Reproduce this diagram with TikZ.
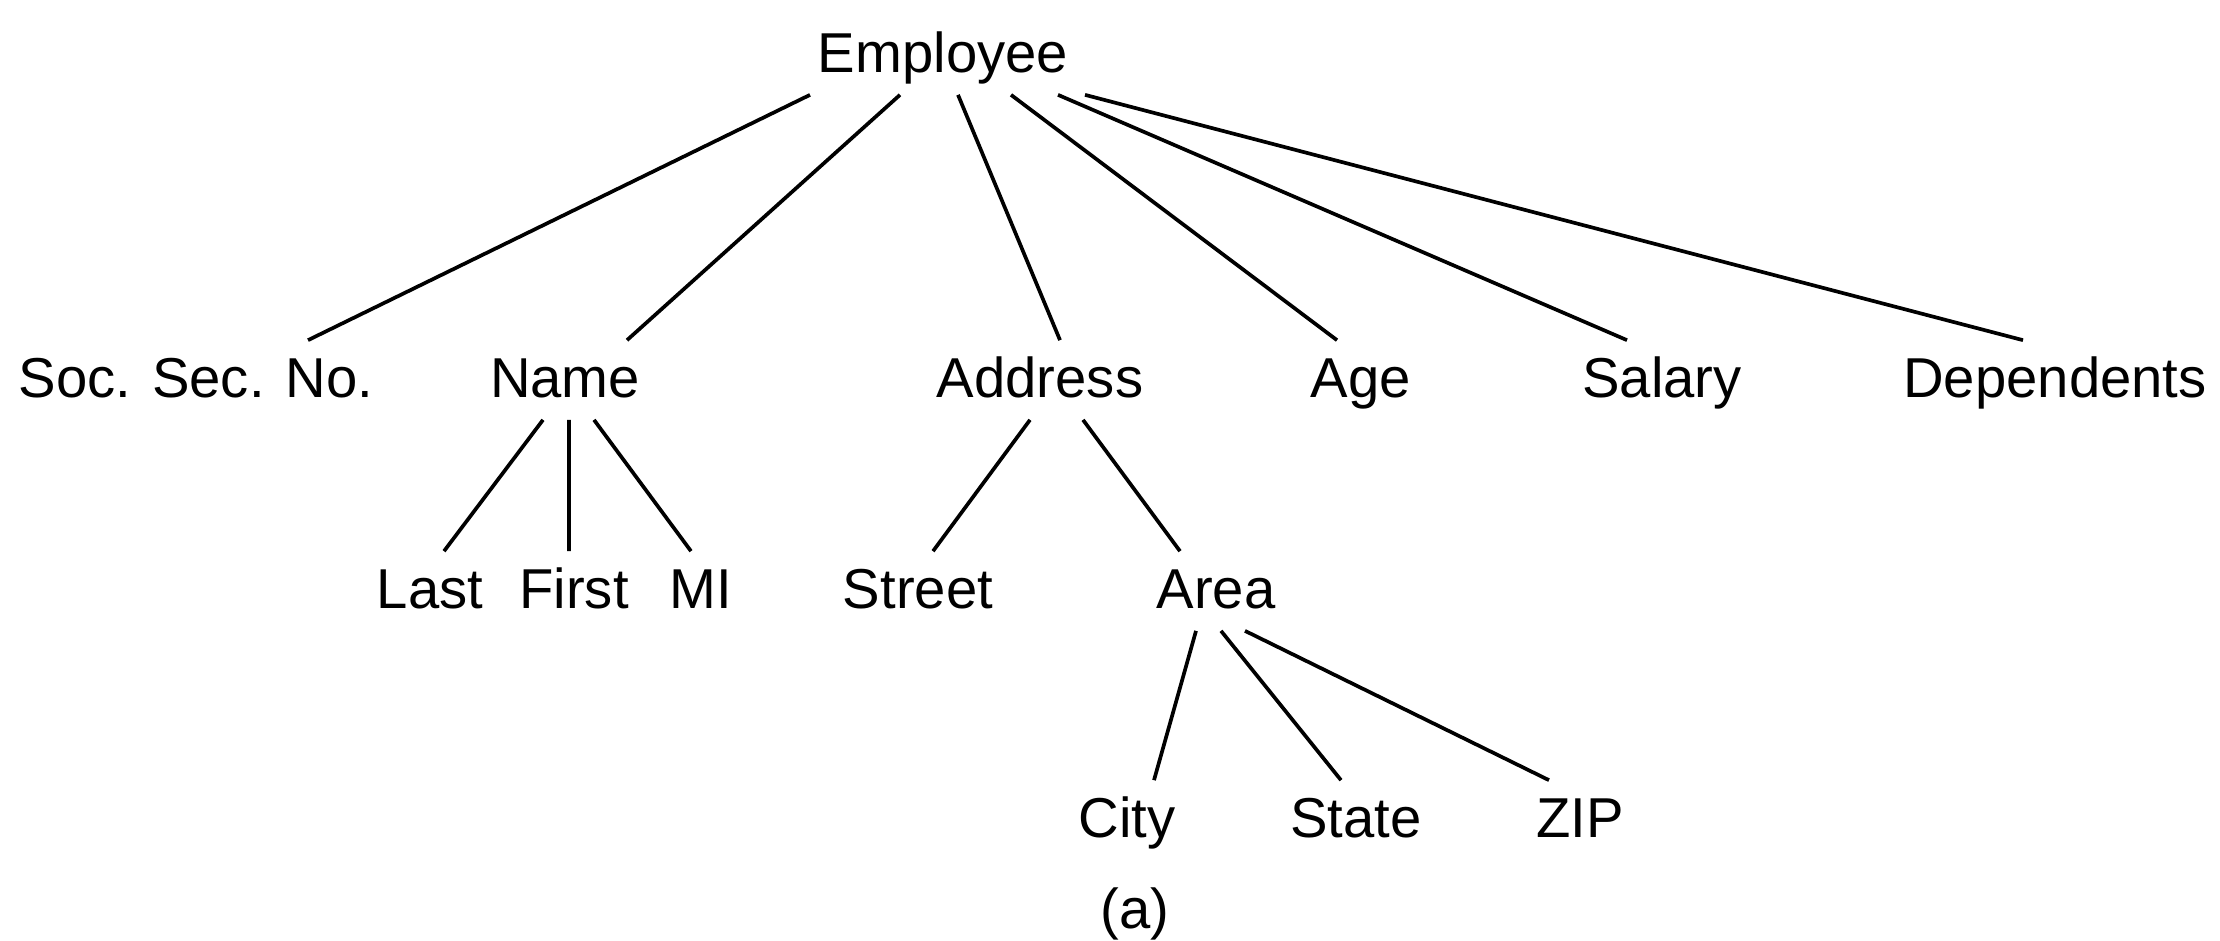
\documentclass[tikz,border=0pt]{standalone}
\usepackage{fontspec}
\setmainfont{Liberation Sans}

\begin{document}
\begin{tikzpicture}[line width=1.05pt,
	field/.style={inner xsep=0pt, inner ysep=1.3mm, text height=4.2mm, text depth=0.8mm, font=\fontsize{16}{19}\selectfont}]
	\useasboundingbox (0,0) rectangle (22.2,-9.4);

	% Nodes {root, fields, subfields}
	\node [field] (emp)    at (9.43,-0.55)  {Employee};
	\node [field] (ssn)    at (1.96,-3.80)  {Soc. Sec. No.};
	\node [field] (name)   at (5.65,-3.80)  {Name};
	\node [field] (addr)   at (10.40,-3.80) {Address};
	\node [field] (age)    at (13.61,-3.80) {Age};
	\node [field] (sal)    at (16.62,-3.80) {Salary};
	\node [field] (dep)    at (20.55,-3.80) {Dependents};
	\node [field] (last)   at (4.30,-5.91)  {Last};
	\node [field] (first)  at (5.74,-5.91)  {First};
	\node [field] (mi)     at (7.01,-5.91)  {MI};
	\node [field] (street) at (9.18,-5.91)  {Street};
	\node [field] (area)   at (12.16,-5.91) {Area};
	\node [field] (city)   at (11.27,-8.20) {City};
	\node [field] (state)  at (13.56,-8.20) {State};
	\node [field] (zip)    at (15.80,-8.20) {ZIP};
	\node [field] (cap)    at (11.35,-9.11) {(a)};

	% Lines
	\draw ([xshift=-13.3mm]emp.south) -- ([xshift=11.2mm]ssn.north);
	\draw ([xshift=-4.3mm]emp.south)  -- ([xshift=6.2mm]name.north);
	\draw ([xshift=1.5mm]emp.south)   -- ([xshift=2mm]addr.north);
	\draw ([xshift=6.8mm]emp.south)   -- ([xshift=-2.4mm]age.north);
	\draw ([xshift=11.5mm]emp.south)  -- ([xshift=-3.5mm]sal.north);
	\draw ([xshift=14.2mm]emp.south)  -- ([xshift=-3.2mm]dep.north);

	\draw ([xshift=-2.2mm]name.south) -- ([xshift=1.4mm]last.north);
	\draw ([xshift=0.4mm]name.south)  -- ([xshift=-0.5mm]first.north);
	\draw ([xshift=2.9mm]name.south)  -- ([xshift=-1mm]mi.north);

	\draw ([xshift=-1mm]addr.south)   -- ([xshift=1.5mm]street.north);
	\draw ([xshift=4.3mm]addr.south)  -- ([xshift=-3.6mm]area.north);

	\draw ([xshift=-2mm]area.south)   -- ([xshift=2.7mm]city.north);
	\draw ([xshift=0.5mm]area.south)  -- ([xshift=-1.5mm]state.north);
	\draw ([xshift=2.9mm]area.south)  -- ([xshift=-3.1mm]zip.north);
\end{tikzpicture}
\end{document}
